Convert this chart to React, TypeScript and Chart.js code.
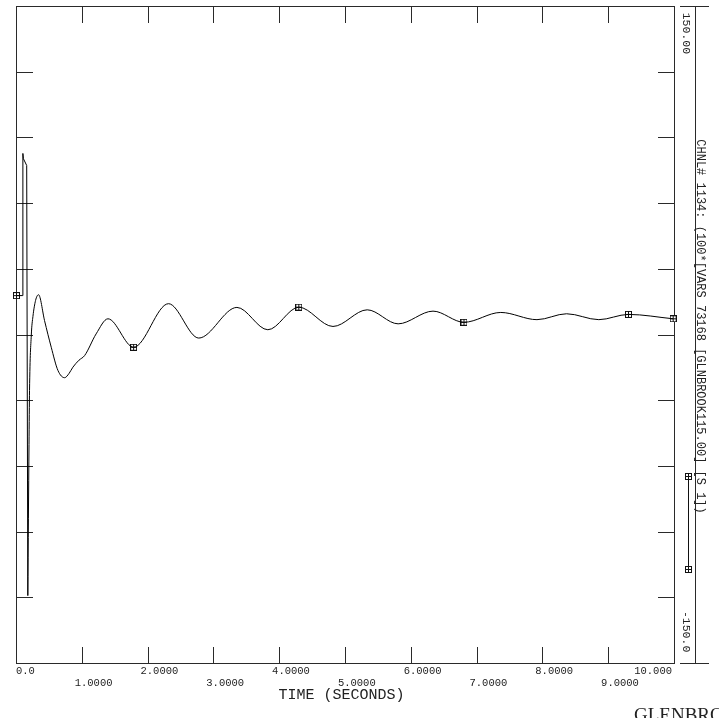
import { useEffect, useRef } from 'react';
import { Chart, registerables } from 'chart.js';

Chart.register(...registerables);

// ---- data ----
// fault transient (drawn with straight segments)
const transientTime = [0, 0.096, 0.097, 0.105, 0.155, 0.157, 0.172];
const transientValue = [18.0, 18.0, 82.9, 80.5, 77.4, 77.4, -119.0];
// post-fault swing: samples at the turning points (drawn smooth, monotone)
const timeSeconds = [
  0.172, 0.19, 0.198, 0.225, 0.25, 0.29, 0.335,
  0.426, 0.528, 0.63, 0.731, 0.8, 0.857, 0.95, 1.035, 1.21, 1.39,
  1.78, 2.31, 2.77, 3.35, 3.82, 4.29, 4.81, 5.33, 5.8, 6.33, 6.8, 7.36, 7.91,
  8.36, 8.85, 9.3, 9.98,
];
const channelValues = [
  -119.0, -50.0, -25.3, 0.0, 8.5, 15.8, 18.4,
  6.6, -5.6, -16.2, -19.5, -17.5, -14.7, -11.5, -9.4, 0.5, 7.4,
  -5.6, 14.3, -1.4, 12.6, 2.4, 12.7, 3.9, 11.5, 5.1, 10.9, 5.8, 10.3, 7.0,
  9.7, 7.0, 9.4, 7.4,
];
const markerTimes = [0, 1.78, 4.29, 6.8, 9.3, 9.98];
const markerValues = [18.0, -5.6, 12.7, 5.8, 9.4, 7.4];

const xTickValues = [0, 1, 2, 3, 4, 5, 6, 7, 8, 9, 10];
const xTickLabels = ['0.0', '1.0000', '2.0000', '3.0000', '4.0000', '5.0000', '6.0000', '7.0000', '8.0000', '9.0000', '10.000'];
const yTickValues = [-120, -90, -60, -30, 0, 30, 60, 90, 120];
const yMin = -150;
const yMax = 150;
const yTopLabel = '150.00';
const yBottomLabel = '-150.0';
const channelTitle = 'CHNL# 1134: (100*[VARS 73168 [GLNBROOK115.00] [S 1])';
const xAxisTitle = 'TIME (SECONDS)';
const footerTitle = 'GLENBROOK';

function makeMarker(): HTMLCanvasElement {
  const c = document.createElement('canvas');
  c.width = 7;
  c.height = 7;
  const g = c.getContext('2d')!;
  g.fillStyle = '#fff';
  g.fillRect(0, 0, 7, 7);
  g.strokeStyle = '#111';
  g.lineWidth = 1;
  g.strokeRect(0.5, 0.5, 6, 6);
  g.beginPath();
  g.moveTo(1, 3.5);
  g.lineTo(6, 3.5);
  g.moveTo(3.5, 1);
  g.lineTo(3.5, 6);
  g.stroke();
  return c;
}

const MONO = '"Liberation Mono", "DejaVu Sans Mono", monospace';

export default function App() {
  const ref = useRef<HTMLCanvasElement | null>(null);

  useEffect(() => {
    if (!ref.current) return;
    const marker = makeMarker();

    const framePlugin = {
      id: 'psseFrame',
      beforeDatasetsDraw(chart: any) {
        const { ctx, chartArea, scales } = chart;
        const { left, right, top, bottom } = chartArea;
        const xs = scales.x;
        const ys = scales.y;
        ctx.save();
        ctx.strokeStyle = '#2a2a2a';
        ctx.lineWidth = 1;
        ctx.strokeRect(left, top, right - left, bottom - top);
        ctx.beginPath();
        xTickValues.forEach((v) => {
          if (v === xTickValues[0] || v === xTickValues[xTickValues.length - 1]) return;
          const px = Math.floor(xs.getPixelForValue(v)) + 0.5;
          ctx.moveTo(px, top);
          ctx.lineTo(px, top + 16.5);
          ctx.moveTo(px, bottom);
          ctx.lineTo(px, bottom - 16.5);
        });
        yTickValues.forEach((v) => {
          const py = Math.floor(ys.getPixelForValue(v)) + 0.5;
          ctx.moveTo(left, py);
          ctx.lineTo(left + 16.5, py);
          ctx.moveTo(right, py);
          ctx.lineTo(right - 16.5, py);
        });
        ctx.stroke();
        ctx.restore();
      },
      afterDraw(chart: any) {
        const { ctx, chartArea, scales } = chart;
        const { left, right, top, bottom } = chartArea;
        const xs = scales.x;
        ctx.save();
        ctx.fillStyle = '#222';
        ctx.textBaseline = 'alphabetic';
        ctx.font = `10.5px ${MONO}`;
        xTickValues.forEach((v, i) => {
          const px = xs.getPixelForValue(v);
          const y = i % 2 === 0 ? bottom + 10.7 : bottom + 22.2;
          if (i === 0) {
            ctx.textAlign = 'left';
            ctx.fillText(xTickLabels[i], px - 0.5, y);
          } else if (i === xTickValues.length - 1) {
            ctx.textAlign = 'right';
            ctx.fillText(xTickLabels[i], px - 2.5, y);
          } else {
            ctx.textAlign = 'left';
            ctx.fillText(xTickLabels[i], px - 7.6, y);
          }
        });
        ctx.font = `15px ${MONO}`;
        ctx.textAlign = 'center';
        ctx.fillText(xAxisTitle, (left + right) / 2 - 4, bottom + 35);

        // right strip
        ctx.strokeStyle = '#2a2a2a';
        ctx.lineWidth = 1;
        ctx.beginPath();
        ctx.moveTo(695.5, top);
        ctx.lineTo(695.5, bottom);
        ctx.moveTo(680, top);
        ctx.lineTo(709, top);
        ctx.moveTo(680, bottom);
        ctx.lineTo(709, bottom);
        ctx.stroke();

        const rot = (text: string, x: number, y: number, align: CanvasTextAlign, font: string) => {
          ctx.save();
          ctx.translate(x, y);
          ctx.rotate(Math.PI / 2);
          ctx.font = font;
          ctx.textAlign = align;
          ctx.textBaseline = 'middle';
          ctx.fillText(text, 0, 0);
          ctx.restore();
        };
        rot(yTopLabel, 686, top + 6.2, 'left', `11.5px ${MONO}`);
        rot(yBottomLabel, 686, bottom - 11.2, 'right', `11.5px ${MONO}`);
        rot(channelTitle, 700.5, 139.3, 'left', `12px ${MONO}`);

        // legend line sample
        ctx.strokeStyle = '#111';
        ctx.beginPath();
        ctx.moveTo(688.5, 476);
        ctx.lineTo(688.5, 569);
        ctx.stroke();
        ctx.drawImage(marker, 685, 473);
        ctx.drawImage(marker, 685, 566);

        ctx.font = '19px "Liberation Serif", serif';
        ctx.textAlign = 'left';
        ctx.textBaseline = 'alphabetic';
        ctx.fillText(footerTitle, 634, 721);
        ctx.restore();
      },
    };

    const chart = new Chart(ref.current, {
      type: 'line',
      data: {
        datasets: [
          {
            data: transientTime.map((t, i) => ({ x: t, y: transientValue[i] })),
            borderColor: '#000',
            borderWidth: 1,
            pointRadius: 0,
            tension: 0,
            clip: false as any,
          },
          {
            data: timeSeconds.map((t, i) => ({ x: t, y: channelValues[i] })),
            borderColor: '#000',
            borderWidth: 1,
            pointRadius: 0,
            cubicInterpolationMode: 'monotone',
            clip: false as any,
          },
          {
            data: markerTimes.map((t, i) => ({ x: t, y: markerValues[i] })),
            showLine: false,
            pointStyle: marker as any,
            pointRadius: 3,
            clip: false as any,
          },
        ],
      },
      options: {
        animation: false,
        responsive: false,
        events: [],
        layout: { padding: { left: 16.5, right: 44.5, top: 6.5, bottom: 54.5 } },
        plugins: { legend: { display: false }, tooltip: { enabled: false } },
        scales: {
          x: { type: 'linear', min: 0, max: 10, display: false },
          y: { type: 'linear', min: yMin, max: yMax, display: false },
        },
      },
      plugins: [framePlugin],
    });
    return () => chart.destroy();
  }, []);

  return (
    <div style={{ position: 'fixed', left: 0, top: 0, width: 719, height: 718, background: '#fff' }}>
      <canvas ref={ref} width={719} height={718} style={{ display: 'block' }} />
    </div>
  );
}
